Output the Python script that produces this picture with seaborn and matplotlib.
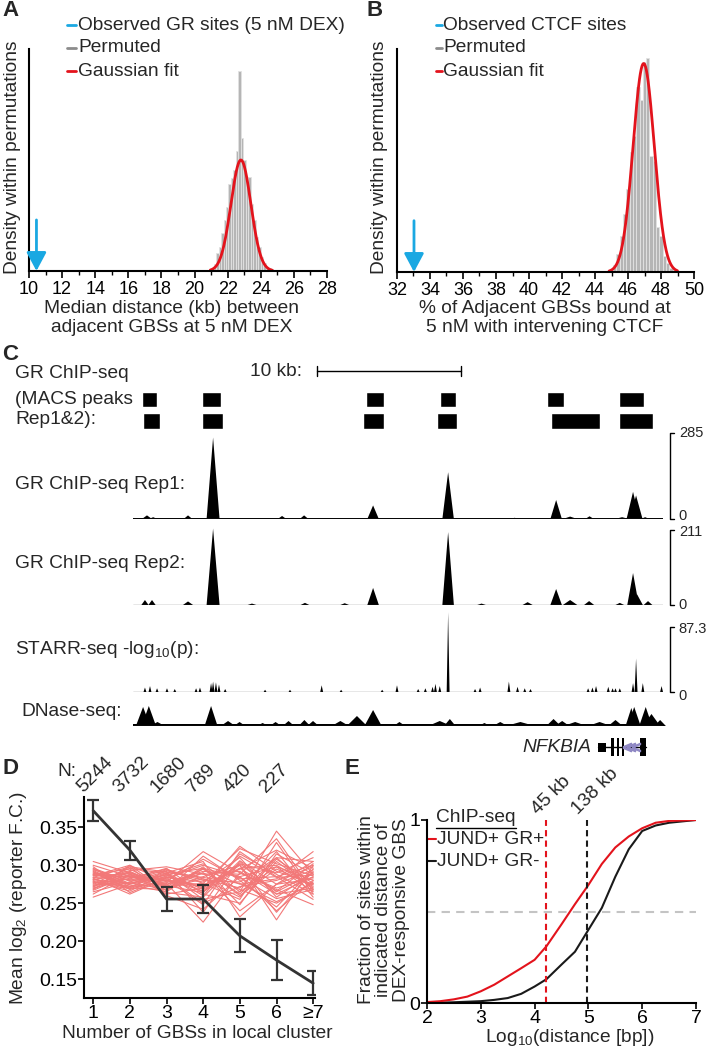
import numpy as np
import pandas as pd
import matplotlib
matplotlib.use('Agg')
import matplotlib.pyplot as plt
from matplotlib.lines import Line2D
import matplotlib.transforms as mtrans
from matplotlib.ticker import FormatStrFormatter
import seaborn as sns

# ---------------- DATA ----------------
# Panel A: permuted median distance (kb), histogram bins (normalised heights)
a_bin_start = 21.0
a_bin_width = 0.15
a_heights = [0.01, 0.03, 0.08, 0.11, 0.17, 0.23, 0.29, 0.39, 0.42, 0.455, 0.54, 0.90,
             0.60, 0.50, 0.42, 0.425, 0.30, 0.23, 0.155, 0.11, 0.065, 0.035, 0.017, 0.012, 0.008]
a_fit = dict(mu=22.8, sigma=0.6, amp=0.50, lo=20.95, hi=24.7)
a_observed = 10.45

# Panel B: % adjacent GBSs with intervening CTCF
b_bin_start = 44.9
b_bin_width = 0.2
b_heights = [0.01, 0.03, 0.08, 0.16, 0.26, 0.37, 0.54, 0.61, 0.83, 0.77, 0.94, 0.96,
             0.52, 0.50, 0.20, 0.16, 0.07, 0.04, 0.02, 0.01]
b_fit = dict(mu=46.95, sigma=0.64, amp=0.935, lo=44.85, hi=49.0)
b_observed = 33.03

# Panel C: genome browser (positions in kb from window start)
window_kb = 36.8
scale_start_kb, scale_len_kb = 12.8, 10
macs_rep1 = [(0.6, 1.7), (4.8, 6.1), (16.2, 17.4), (21.3, 22.4), (28.75, 29.9), (33.75, 35.5)]
macs_rep2 = [(0.7, 1.9), (4.8, 6.25), (16.0, 17.4), (21.1, 22.5), (29.0, 32.4), (33.75, 36.1)]

rep1_pos = [0.97, 1.4, 3.82, 5.56, 7.85, 10.35, 11.88, 16.67, 21.88, 26.5, 29.38, 30.35, 31.7, 33.96, 34.72, 34.93, 35.56]
rep1_h   = [12, 6, 12, 270, 3, 10, 12, 45, 155, 4, 63, 8, 9, 6, 90, 78, 6]
rep1_w   = [0.35, 0.3, 0.3, 0.45, 0.3, 0.3, 0.3, 0.4, 0.4, 0.3, 0.4, 0.5, 0.3, 0.5, 0.45, 0.45, 0.3]
rep1_max = 285

rep2_pos = [0.83, 1.32, 3.82, 5.56, 8.26, 11.94, 14.7, 16.67, 21.88, 24.2, 27.4, 29.38, 30.35, 31.67, 33.8, 34.72, 35.0, 35.76]
rep2_h   = [14, 14, 10, 215, 4, 6, 5, 48, 205, 4, 8, 45, 14, 11, 6, 90, 30, 11]
rep2_w   = [0.25, 0.25, 0.35, 0.45, 0.3, 0.3, 0.3, 0.4, 0.4, 0.3, 0.35, 0.4, 0.5, 0.35, 0.3, 0.4, 0.4, 0.3]
rep2_max = 211

starr_pos = [0.83, 1.18, 1.67, 2.36, 2.9, 4.38, 4.65, 5.42, 5.56, 5.76, 5.97, 6.4, 9.17, 10.9, 13.1, 14.45,
             17.3, 18.33, 19.8, 20.3, 20.8, 21.0, 21.3, 21.88, 23.75, 24.1, 26.1, 26.7, 27.2, 27.6,
             31.6, 31.9, 32.15, 33.0, 33.3, 33.5, 33.8, 34.72, 34.93, 35.4, 36.7]
starr_h   = [6, 8, 5, 5, 4, 5, 6, 12, 14, 13, 10, 4, 3, 3, 9, 3,
             3, 9, 4, 5, 7, 11, 8, 107, 4, 6, 14, 7, 5, 4,
             5, 6, 8, 7, 5, 5, 5, 12, 45, 12, 8]
starr_max = 87.3

dnase_pos = [0.7, 1.1, 1.7, 5.42, 6.6, 7.4, 9.0, 9.9, 10.8, 11.9, 12.5, 14.4, 15.55, 16.67, 18.5, 21.3, 22.0,
             24.4, 25.5, 26.9, 29.2, 29.8, 30.7, 32.4, 33.5, 34.6, 34.8, 35.6, 36.0, 36.6]
dnase_h   = [19, 20, 4, 20, 5, 4, 3, 4, 5, 6, 5, 5, 10, 16, 4, 5, 7,
             3, 4, 4, 7, 5, 4, 4, 6, 18, 19, 19, 12, 6]
dnase_w   = [0.5, 0.5, 0.5, 0.45, 0.5, 0.4, 0.4, 0.4, 0.4, 0.4, 0.4, 0.6, 0.7, 0.6, 0.4, 0.8, 0.4,
             0.4, 0.5, 1.0, 0.5, 0.5, 0.8, 0.8, 0.5, 0.4, 0.45, 0.45, 0.6, 0.4]

gene_name = 'NFKBIA'
gene_span = (32.3, 35.6)
gene_exons = [(32.3, 32.85, 0.45), (33.2, 33.42, 0.9), (33.6, 33.75, 0.9), (33.96, 34.1, 0.9), (35.2, 35.6, 0.9)]
gene_arrows = [34.3, 34.6, 34.9]

# Panel D
d_labels = ['1', '2', '3', '4', '5', '6', '\u22657']
d_n = [5244, 3732, 1680, 789, 420, 227]
d_mean = [0.372, 0.320, 0.2555, 0.2555, 0.207, 0.175, 0.1445]
d_err = [0.014, 0.0125, 0.0155, 0.018, 0.022, 0.026, 0.0155]
d_perm = [
    [0.281, 0.276, 0.285, 0.270, 0.302, 0.265, 0.290],
    [0.275, 0.290, 0.272, 0.295, 0.262, 0.310, 0.268],
    [0.292, 0.268, 0.281, 0.248, 0.318, 0.285, 0.300],
    [0.270, 0.283, 0.295, 0.276, 0.255, 0.330, 0.262],
    [0.286, 0.300, 0.266, 0.312, 0.280, 0.245, 0.295],
    [0.278, 0.272, 0.288, 0.265, 0.296, 0.300, 0.272],
    [0.300, 0.285, 0.275, 0.290, 0.240, 0.275, 0.305],
    [0.265, 0.278, 0.292, 0.238, 0.305, 0.262, 0.285],
    [0.288, 0.295, 0.270, 0.282, 0.270, 0.318, 0.258],
    [0.283, 0.262, 0.283, 0.300, 0.285, 0.240, 0.280],
    [0.272, 0.288, 0.262, 0.270, 0.325, 0.292, 0.275],
    [0.295, 0.276, 0.290, 0.255, 0.265, 0.345, 0.288],
    [0.268, 0.300, 0.278, 0.318, 0.290, 0.268, 0.248],
    [0.290, 0.270, 0.268, 0.285, 0.300, 0.228, 0.300],
    [0.277, 0.282, 0.296, 0.262, 0.250, 0.305, 0.270],
    [0.305, 0.290, 0.274, 0.295, 0.275, 0.282, 0.318],
    [0.258, 0.275, 0.284, 0.278, 0.310, 0.258, 0.290],
    [0.284, 0.298, 0.260, 0.242, 0.285, 0.298, 0.265],
    [0.279, 0.266, 0.290, 0.305, 0.232, 0.275, 0.282],
    [0.287, 0.285, 0.280, 0.272, 0.295, 0.320, 0.296],
    [0.273, 0.292, 0.270, 0.290, 0.268, 0.250, 0.278],
    [0.296, 0.279, 0.287, 0.260, 0.315, 0.288, 0.262],
    [0.282, 0.270, 0.293, 0.280, 0.278, 0.310, 0.305],
    [0.269, 0.286, 0.276, 0.225, 0.290, 0.270, 0.284],
    [0.291, 0.274, 0.265, 0.296, 0.260, 0.295, 0.274],
    [0.276, 0.296, 0.289, 0.268, 0.300, 0.238, 0.292],
    [0.284, 0.281, 0.279, 0.308, 0.282, 0.285, 0.255],
    [0.262, 0.288, 0.272, 0.276, 0.322, 0.302, 0.286],
    [0.298, 0.264, 0.284, 0.250, 0.272, 0.280, 0.298],
    [0.280, 0.293, 0.298, 0.288, 0.292, 0.262, 0.270],
    [0.274, 0.277, 0.268, 0.298, 0.248, 0.315, 0.288],
    [0.289, 0.284, 0.282, 0.266, 0.302, 0.290, 0.310],
    [0.271, 0.298, 0.291, 0.284, 0.276, 0.252, 0.276],
    [0.293, 0.272, 0.277, 0.292, 0.288, 0.335, 0.266],
    [0.286, 0.289, 0.264, 0.258, 0.306, 0.275, 0.294],
    [0.278, 0.269, 0.286, 0.302, 0.265, 0.298, 0.280],
    [0.267, 0.287, 0.280, 0.274, 0.296, 0.266, 0.302],
    [0.294, 0.280, 0.294, 0.282, 0.258, 0.308, 0.276],
    [0.281, 0.291, 0.273, 0.264, 0.312, 0.284, 0.287],
    [0.288, 0.276, 0.288, 0.296, 0.284, 0.256, 0.268],
]

# Panel E: cumulative fractions vs log10 distance
e_x = [2.0, 2.25, 2.5, 2.75, 3.0, 3.25, 3.5, 3.75, 4.0, 4.22, 4.5, 4.75, 5.0, 5.25, 5.5, 5.75, 6.0, 6.25, 6.5, 7.0]
e_red = [0.005, 0.01, 0.02, 0.035, 0.064, 0.10, 0.145, 0.19, 0.236, 0.31, 0.43, 0.54, 0.645, 0.76, 0.85, 0.91, 0.955, 0.985, 0.995, 1.0]
e_black = [0.0, 0.002, 0.004, 0.007, 0.01, 0.017, 0.027, 0.05, 0.09, 0.13, 0.21, 0.28, 0.40, 0.52, 0.69, 0.84, 0.94, 0.97, 0.985, 1.0]
e_med_red, e_med_black = 4.22, 4.97
e_med_labels = ['45 kb', '138 kb']

# ---------------- STYLE ----------------
sns.set_theme(style='ticks')
plt.rcParams['font.family'] = ['Liberation Sans', 'DejaVu Sans']
plt.rcParams['mathtext.fontset'] = 'custom'
plt.rcParams['mathtext.rm'] = 'Liberation Sans'
plt.rcParams['mathtext.it'] = 'Liberation Sans:italic'
plt.rcParams['axes.linewidth'] = 1.5
FS = 13.8
TFS = 13
RED = '#e3131c'
BLUE = '#1aa8e2'
GREY = '#8c8c8c'
PINK = '#f27878'

W, H = 707, 1049
fig = plt.figure(figsize=(W / 100, H / 100), dpi=100)


def fx(px):
    return px / W


def fy(py):
    return 1 - py / H


def rect(l, t, r, b):
    return [fx(l), fy(b), fx(r) - fx(l), fy(t) - fy(b)]


def ftext(x, y, s, **kw):
    kw.setdefault('fontsize', FS)
    kw.setdefault('va', 'center')
    return fig.text(fx(x), fy(y), s, **kw)


def style_axis(ax, labelsize, length=5, pad=2):
    sns.despine(ax=ax)
    ax.tick_params(axis='both', which='major', direction='out', length=length, width=1.2,
                   labelsize=labelsize, pad=pad, color='black', labelcolor='black')
    ax.tick_params(axis='both', which='minor', direction='out', length=3, width=1.0, color='black')
    for s in ('left', 'bottom'):
        ax.spines[s].set_color('black')
        ax.spines[s].set_linewidth(1.5)


def hist_panel(rect_px, start, width, heights, fit, obs, xlim, legend_px, labels):
    ax = fig.add_axes(rect(*rect_px))
    edges = [start + width * i for i in range(len(heights) + 1)]
    df = pd.DataFrame({'x': [e + width / 2 for e in edges[:-1]], 'w': heights})
    sns.histplot(data=df, x='x', weights='w', bins=edges, ax=ax, color='#b5b5b5',
                 edgecolor='#e2e2e2', linewidth=0.6, alpha=1)
    xs = np.linspace(fit['lo'], fit['hi'], 300)
    ax.plot(xs, fit['amp'] * np.exp(-(xs - fit['mu']) ** 2 / (2 * fit['sigma'] ** 2)), color=RED, lw=2)
    ax.annotate('', xy=(obs, 0.0), xytext=(obs, 0.23),
                arrowprops=dict(arrowstyle='-|>,head_width=0.4,head_length=0.75', color=BLUE,
                                lw=2, shrinkA=0, shrinkB=0, mutation_scale=15))
    ax.set_xlim(*xlim)
    ax.set_ylim(0, 1)
    ax.set_xticks(np.arange(xlim[0], xlim[1] + 1, 2))
    ax.set_xticks(np.arange(xlim[0] + 1, xlim[1], 2), minor=True)
    ax.set_yticks([])
    ax.set_ylabel('')
    ax.set_xlabel('')
    style_axis(ax, TFS)
    lx0, lx1, tx, ys = legend_px
    for y, lab, col in zip(ys, labels, [BLUE, GREY, RED]):
        fig.add_artist(Line2D([fx(lx0), fx(lx1)], [fy(y), fy(y)], color=col, lw=2))
        ftext(tx, y, lab, ha='left')
    return ax


# ---------------- PANEL A ----------------
axA = hist_panel((29, 49, 327, 271), a_bin_start, a_bin_width, a_heights, a_fit, a_observed, (10, 28),
                 (67, 76, 78, [25, 48, 71]), ['Observed GR sites (5 nM DEX)', 'Permuted', 'Gaussian fit'])
ftext(13, 157, 'Density within permutations', rotation=90, ha='center')
ftext(172, 318, 'Median distance (kb) between\nadjacent GBSs at 5 nM DEX', ha='center', linespacing=1.12)
ftext(2, 11, 'A', fontweight='bold', fontsize=16, ha='left')

# ---------------- PANEL B ----------------
axB = hist_panel((397, 49, 694, 272), b_bin_start, b_bin_width, b_heights, b_fit, b_observed, (32, 50),
                 (436, 442, 443, [25, 48, 71]), ['Observed CTCF sites', 'Permuted', 'Gaussian fit'])
ftext(379, 157, 'Density within permutations', rotation=90, ha='center')
ftext(545, 318, '% of Adjacent GBSs bound at\n5 nM with intervening CTCF', ha='center', linespacing=1.12)
ftext(366, 11, 'B', fontweight='bold', fontsize=16, ha='left')

# ---------------- PANEL C ----------------
TL, TR = 133, 663
ftext(2, 354, 'C', fontweight='bold', fontsize=16, ha='left')

axM = fig.add_axes(rect(TL, 360, TR, 431))
axM.set_xlim(0, window_kb)
axM.set_ylim(71, 0)
axM.axis('off')
axM.broken_barh([(s, e - s) for s, e in macs_rep1], (32, 15), facecolor='black')
axM.broken_barh([(s, e - s) for s, e in macs_rep2], (53, 16), facecolor='black')
axM.plot([scale_start_kb, scale_start_kb + scale_len_kb], [11, 11], color='black', lw=1)
for xx in (scale_start_kb, scale_start_kb + scale_len_kb):
    axM.plot([xx, xx], [6, 16], color='black', lw=1)
axM.text(scale_start_kb - 1.05, 12, '10 kb:', ha='right', va='center', fontsize=FS)

ftext(15, 373, 'GR ChIP-seq', ha='left')
ftext(15, 399, '(MACS peaks', ha='left')
ftext(15, 420, 'Rep1&2):', ha='left')


def track(top, base, pos, heights, widths, ymax, floor, label_top=None, top_y=1.0, zero_y=0.0):
    ax = fig.add_axes(rect(TL, top, TR, base))
    ax.set_xlim(0, window_kb)
    ax.set_ylim(0, ymax)
    ax.axis('off')
    ax.fill_between([0, window_kb], 0, floor, color='black', lw=0)
    for c, h, w in zip(pos, heights, widths):
        ax.fill([c - w, c, c + w], [0, h, 0], color='black', lw=0, clip_on=False)
    ax.axhline(0, color='#444444', lw=0.9)
    if label_top is not None:
        x0 = 1 + 7 / (TR - TL)
        dx = 4 / (TR - TL)
        ax.plot([x0 + dx, x0, x0, x0 + dx], [1, 1, 0, 0], transform=ax.transAxes,
                color='black', lw=1, clip_on=False)
        ax.text(x0 + 2.2 * dx, top_y, label_top, transform=ax.transAxes, ha='left', va='center', fontsize=10.5)
        ax.text(x0 + 2.2 * dx, zero_y, '0', transform=ax.transAxes, ha='left', va='center', fontsize=10.5)
    return ax


track(433, 519, rep1_pos, rep1_h, rep1_w, rep1_max, 1.8, '285', zero_y=0.04)
ftext(15, 484, 'GR ChIP-seq Rep1:', ha='left')
track(530, 605, rep2_pos, rep2_h, rep2_w, rep2_max, 1.3, '211', top_y=0.975, zero_y=0.0)
ftext(15, 564, 'GR ChIP-seq Rep2:', ha='left')
track(627, 692, starr_pos, starr_h, [0.1] * len(starr_pos), starr_max, 0.6, '87.3', top_y=0.97, zero_y=-0.06)
ftext(15, 650, 'STARR-seq -log$_{10}$(p):', ha='left')
track(701, 726, dnase_pos, dnase_h, dnase_w, 25, 2.5)
ftext(21, 711, 'DNase-seq:', ha='left')

axG = fig.add_axes(rect(TL, 737, TR, 757))
axG.set_xlim(0, window_kb)
axG.set_ylim(-1, 1)
axG.axis('off')
axG.plot(list(gene_span), [0, 0], color='black', lw=1)
for s, e, hh in gene_exons:
    axG.fill([s, e, e, s], [-hh, -hh, hh, hh], color='black', lw=0)
axG.plot(gene_arrows, [0] * len(gene_arrows), ls='none', marker='$<$', color='#8f88c4', ms=6)
axG.text(gene_span[0] - 0.45, 0, gene_name, ha='right', va='center', fontsize=FS, style='italic')

# ---------------- PANEL D ----------------
axD = fig.add_axes(rect(84, 797, 315, 998))
xpos = list(range(1, len(d_labels) + 1))
perm_long = pd.DataFrame([(i, xpos[j], v) for i, row in enumerate(d_perm) for j, v in enumerate(row)],
                         columns=['perm', 'cluster', 'value'])
sns.lineplot(data=perm_long, x='cluster', y='value', units='perm', estimator=None,
             color=PINK, lw=0.8, ax=axD, legend=False)
axD.errorbar(xpos, d_mean, yerr=d_err, color='#333333', lw=2, elinewidth=1.6, capsize=4, capthick=1.6, zorder=5)
axD.set_xlim(0.75, 7.05)
axD.set_ylim(0.125, 0.390)
axD.set_xticks(xpos)
axD.set_xticklabels(d_labels)
axD.set_yticks([0.15, 0.20, 0.25, 0.30, 0.35])
axD.yaxis.set_major_formatter(FormatStrFormatter('%.2f'))
axD.set_xlabel('')
axD.set_ylabel('')
style_axis(axD, 14, length=4, pad=1)
bt = mtrans.blended_transform_factory(axD.transData, axD.transAxes)
for x, n in zip(xpos, d_n):
    axD.text(x - 0.28, 1.02, str(n), transform=bt, rotation=45, rotation_mode='anchor',
             ha='left', va='baseline', fontsize=FS)
ftext(57, 771, 'N:', ha='left')
ftext(2, 768, 'D', fontweight='bold', fontsize=16, ha='left')
ftext(19, 898, 'Mean log$_2$ (reporter F.C.)', rotation=90, ha='center')
ftext(197, 1033, 'Number of GBSs in local cluster', ha='center')

# ---------------- PANEL E ----------------
axE = fig.add_axes(rect(427, 820, 696, 1003))
axE.axhline(0.5, color='#c4c4c4', ls=(0, (4, 3)), lw=1.5, zorder=1)
sns.lineplot(x=e_x, y=e_black, color='#1a1a1a', lw=1.5, ax=axE)
sns.lineplot(x=e_x, y=e_red, color=RED, lw=1.5, ax=axE)
axE.plot([e_med_red] * 2, [0, 1], color=RED, ls=(0, (3, 2)), lw=1.5)
axE.plot([e_med_black] * 2, [0, 1], color='#1a1a1a', ls=(0, (3, 2)), lw=1.5)
axE.text(e_med_red - 0.16, 1.03, e_med_labels[0], rotation=45, rotation_mode='anchor',
         ha='left', va='baseline', fontsize=FS)
axE.text(e_med_black - 0.17, 1.03, e_med_labels[1], rotation=45, rotation_mode='anchor',
         ha='left', va='baseline', fontsize=FS)
axE.set_xlim(2, 7)
axE.set_ylim(0, 1)
axE.set_xticks([2, 3, 4, 5, 6, 7])
axE.set_yticks([0, 1])
axE.set_yticklabels(['0', '1'])
axE.set_xlabel('')
axE.set_ylabel('')
style_axis(axE, 14, length=4, pad=1)
# legend
axE.text(0.033, 1.011, 'ChIP-seq', transform=axE.transAxes, ha='left', va='center', fontsize=FS)
axE.plot([0.033, 0.33], [0.955, 0.955], transform=axE.transAxes, color='black', lw=1, clip_on=False)
for yy, lab, col in [(0.895, 'JUND+ GR+', RED), (0.775, 'JUND+ GR-', '#1a1a1a')]:
    axE.plot([0.004, 0.033], [yy, yy], transform=axE.transAxes, color=col, lw=1.5, clip_on=False)
    axE.text(0.037, yy, lab, transform=axE.transAxes, ha='left', va='center', fontsize=FS)
ftext(345, 768, 'E', fontweight='bold', fontsize=16, ha='left')
ftext(384, 910, 'Fraction of sites within\nindicated distance of\nDEX-responsive GBS', rotation=90,
      ha='center', linespacing=1.05, multialignment='center')
ftext(570, 1038, 'Log$_{10}$(distance [bp])', ha='center')

fig.savefig('out.png', dpi=100)
